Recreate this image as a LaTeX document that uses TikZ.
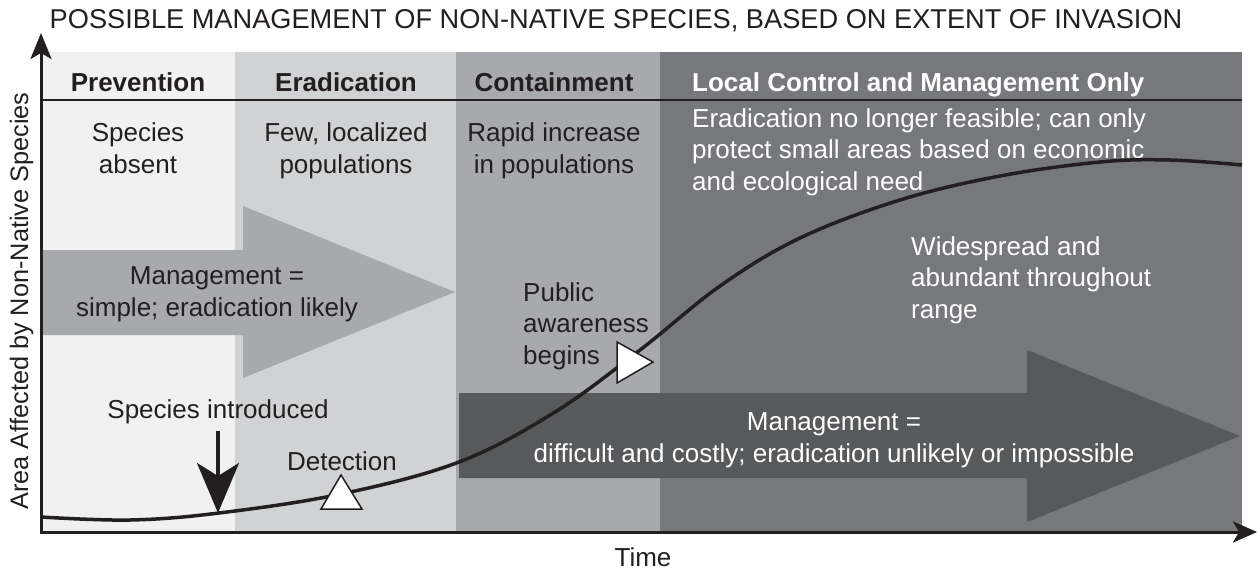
\documentclass[tikz,border=0pt]{standalone}
\usepackage{fontspec}
\setmainfont{Liberation Sans}
\usetikzlibrary{arrows.meta}

\definecolor{bandA}{HTML}{F1F1F2}
\definecolor{bandB}{HTML}{D1D2D4}
\definecolor{bandC}{HTML}{A7A9AC}
\definecolor{bandD}{HTML}{77787B}
\definecolor{darkarrow}{HTML}{58595B}
\definecolor{ink}{HTML}{231F20}

\begin{document}
\begin{tikzpicture}[x=1pt, y=-1pt]
        % Common styles
        \tikzstyle{txt}=[inner sep=0pt, text=ink, font=\fontsize{26}{31.5}\selectfont]
        \tikzstyle{headtxt}=[txt, font=\fontsize{26}{31.5}\selectfont\bfseries]
        \tikzstyle{whitetxt}=[txt, text=white]
        \tikzstyle{axisline}=[line width=3pt, ink, line join=miter]
        \tikzstyle{marker}=[fill=white, draw=ink, line width=1.5pt, line join=miter]

        \useasboundingbox (0,0) rectangle (1257,571);

        % --- Stages (bands) ---
        \fill[bandA] (41,52) rectangle (235,532);
        \fill[bandB] (235,52) rectangle (456,532);
        \fill[bandC] (456,52) rectangle (660,532);
        \fill[bandD] (660,52) rectangle (1242,532);
        \draw[line width=1.5pt, ink] (41,100) -- (1242,100);

        % Title
        \node[txt, anchor=base, font=\fontsize{27.2}{33}\selectfont] (title) at (616,28.5) {POSSIBLE MANAGEMENT OF NON-NATIVE SPECIES, BASED ON EXTENT OF INVASION};

        % Stage headers
        \node[headtxt, anchor=base] (prev) at (138,91) {Prevention};
        \node[headtxt, anchor=base] (erad) at (346,91) {Eradication};
        \node[headtxt, anchor=base] (cont) at (554,91) {Containment};
        \node[headtxt, anchor=base west, text=white] (local) at (692,91) {Local Control and Management Only};

        % Stage descriptions (base = last line)
        \node[txt, anchor=base, align=center] (prevdesc) at (138,173) {Species\\absent};
        \node[txt, anchor=base, align=center] (eraddesc) at (346,173) {Few, localized\\populations};
        \node[txt, anchor=base, align=center] (contdesc) at (554,173) {Rapid increase\\in populations};
        \node[whitetxt, anchor=base west, align=left] (localdesc) at (692,190) {Eradication no longer feasible; can only\\protect small areas based on economic\\and ecological need};

        % --- Management arrows ---
        \fill[bandC] (41,250) -- (243,250) -- (243,206) -- (455,292) -- (243,378) -- (243,335) -- (41,335) -- cycle;
        \node[txt, anchor=base, align=center] (easy) at (217,316) {Management =\\simple; eradication likely};

        \fill[darkarrow] (459,393) -- (1027,393) -- (1027,350) -- (1240,436) -- (1027,522) -- (1027,478) -- (459,478) -- cycle;
        \node[whitetxt, anchor=base, align=center] (hard) at (834,462) {Management =\\difficult and costly; eradication unlikely or impossible};

        % --- Invasion curve ---
        \draw[line width=3.5pt, ink] plot[smooth, tension=0.6] coordinates {(41,517) (130,520) (219,513) (341,494) (459,462) (555,412) (640,350) (720,286) (800,238) (900,200) (1000,176) (1100,162) (1170,160) (1242,165)};

        % Events on the curve
        \node[txt, anchor=base] (intro) at (218,418) {Species introduced};
        \coordinate (introtip) at (218,513);
        \draw[line width=3.5pt, ink, shorten <=7pt, -{Stealth[length=50pt, width=42pt, inset=13pt]}] (intro) -- (introtip);

        \node[txt, anchor=base] (detect) at (342,470) {Detection};
        \filldraw[marker] (341,475) -- (362,509) -- (321,509) -- cycle;

        \node[txt, anchor=base west, align=left] (aware) at (523,364) {Public\\awareness\\begins};
        \filldraw[marker] (617,342) -- (653,362) -- (617,383) -- cycle;

        \node[whitetxt, anchor=base west, align=left] (wide) at (911,318) {Widespread and\\abundant throughout\\range};

        % --- Axes ---
        \coordinate (origin) at (41,532);
        \coordinate (ytop) at (41,33);
        \coordinate (xend) at (1257,532);
        \draw[axisline, {Stealth[length=26pt, width=21pt, inset=6pt]}-{Stealth[length=24pt, width=21pt, inset=6pt]}] (ytop) -- (origin) -- (xend);
        \node[txt, anchor=base, rotate=90, font=\fontsize{25.3}{30}\selectfont] (ylab) at (28,301) {Area Affected by Non-Native Species};
        \node[txt, anchor=base] (time) at (643,566) {Time};
\end{tikzpicture}
\end{document}
